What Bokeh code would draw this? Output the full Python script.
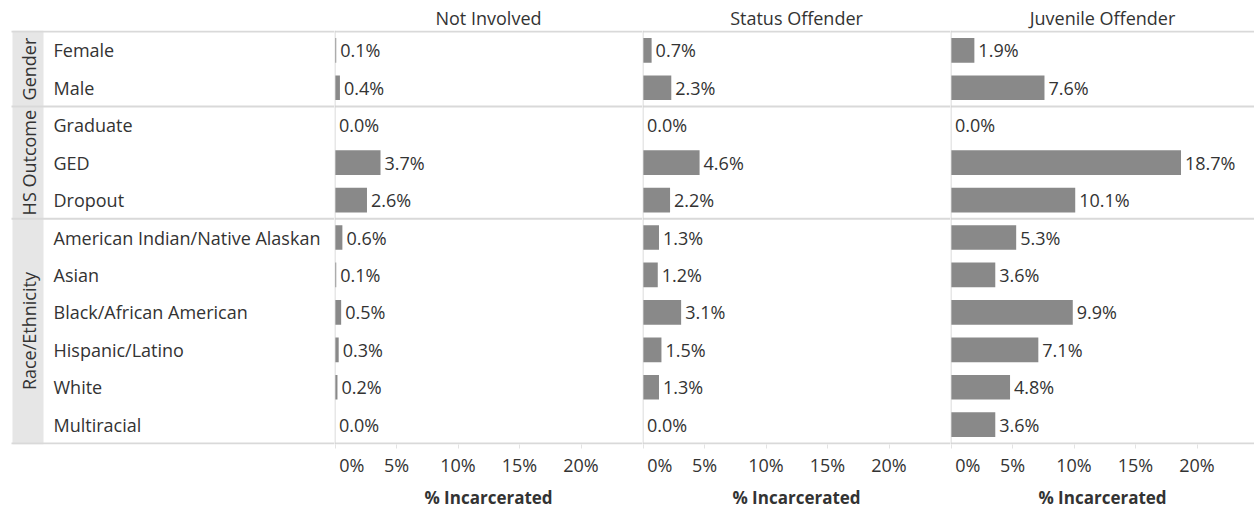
import math
from bokeh.plotting import figure
from bokeh.layouts import row
from bokeh.models import Range1d, FixedTicker, Span, ColumnDataSource, PrintfTickFormatter
from bokeh.core.properties import value
from bokeh.embed import file_html
from bokeh.resources import INLINE

# ---------------- data ----------------
groups = ["Gender", "HS Outcome", "Race/Ethnicity"]
gender = ["Female", "Male"]
hs_outcome = ["Graduate", "GED", "Dropout"]
race = ["American Indian/Native Alaskan", "Asian", "Black/African American",
        "Hispanic/Latino", "White", "Multiracial"]
panels = ["Not Involved", "Status Offender", "Juvenile Offender"]
not_involved = [0.1, 0.4, 0.0, 3.7, 2.6, 0.6, 0.1, 0.5, 0.3, 0.2, 0.0]
status_offender = [0.7, 2.3, 0.0, 4.6, 2.2, 1.3, 1.2, 3.1, 1.5, 1.3, 0.0]
juvenile_offender = [1.9, 7.6, 0.0, 18.7, 10.1, 5.3, 3.6, 9.9, 7.1, 4.8, 3.6]
tick_values = [0, 5, 10, 15, 20]
axis_title = "% Incarcerated"

# ---------------- layout / style ----------------
FONT = "Open Sans"
FS = "18px"
TXT = "#333333"
BAR = "#898989"
LINE = "#d9d9d9"
H = 513
TOP = 30
BOTTOM = 69
LW = 334
PW = [308, 308, 304]
PX_PER_PCT = 12.3
PAD_Y = 0.03

members = [gender, hs_outcome, race]
labels = [m for g in members for m in g]
n = len(labels)
ycent = [i + 0.5 for i in range(n)]
bounds = [0]
for g in members:
    bounds.append(bounds[-1] + len(g))
ymid = [(bounds[k] + bounds[k + 1]) / 2 for k in range(len(groups))]


def yr():
    return Range1d(n + PAD_Y, -PAD_Y)


def base_fig(w, xr, **kw):
    p = figure(width=w, height=H, output_backend="svg", toolbar_location=None,
               x_range=xr, y_range=yr(), min_border_left=0, min_border_right=0,
               min_border_top=TOP, min_border_bottom=BOTTOM,
               outline_line_color=None, y_axis_location=None, **kw)
    p.grid.visible = False
    p.background_fill_color = "white"
    p.border_fill_color = "white"
    return p


# label column figure
lf = base_fig(LW, Range1d(0, LW), x_axis_location=None)
lf.quad(left=[12], right=[43], top=[-PAD_Y], bottom=[n + PAD_Y], fill_color="#e6e6e6", line_color=None)
lf.segment(x0=[11] * len(bounds), x1=[LW] * len(bounds), y0=bounds, y1=bounds,
           line_color=LINE, line_width=2)
lf.text(x=[53] * n, y=ycent, text=labels, text_font=value(FONT), text_font_size=FS,
        text_color=TXT, text_baseline="middle", text_align="left")
lf.text(x=[28] * len(groups), y=ymid, text=groups, angle=math.pi / 2,
        text_font=value(FONT), text_font_size=FS, text_color=TXT,
        text_baseline="middle", text_align="center")

figs = [lf]
series = [not_involved, status_offender, juvenile_offender]
zero_label = "\u00a0" + "0%"
for name, vals, w in zip(panels, series, PW):
    pad_x = 0.5 / PX_PER_PCT
    p = base_fig(w, Range1d(-pad_x, w / PX_PER_PCT - pad_x))
    p.title.text = name
    p.title.align = "center"
    p.title.text_font = FONT
    p.title.text_font_size = FS
    p.title.text_font_style = "normal"
    p.title.text_color = TXT
    p.title.standoff = 2
    src = ColumnDataSource(dict(y=ycent, v=vals, lbl=[f"{v:.1f}%" for v in vals]))
    p.hbar(y="y", left=0, right="v", height=0.66, source=src, fill_color=BAR, line_color=None)
    p.text(x="v", y="y", text="lbl", source=src, x_offset=4, text_font=value(FONT),
           text_font_size=FS, text_color=TXT, text_baseline="middle", text_align="left")
    for b in bounds:
        p.add_layout(Span(location=b, dimension="width", line_color=LINE, line_width=2))
    p.add_layout(Span(location=0, dimension="height", line_color="#d0d0d0", line_width=1))
    ax = p.xaxis[0]
    ax.ticker = FixedTicker(ticks=tick_values)
    ax.formatter = PrintfTickFormatter(format="%d%%")
    ax.major_label_overrides = {0: zero_label}
    ax.axis_line_color = None
    ax.major_tick_in = 0
    ax.major_tick_out = 4
    ax.major_tick_line_color = "#e3e3e3"
    ax.minor_tick_line_color = None
    ax.major_label_standoff = 4
    ax.major_label_text_font = FONT
    ax.major_label_text_font_size = FS
    ax.major_label_text_color = TXT
    ax.major_label_text_line_height = 1.0
    ax.axis_label = axis_title
    ax.axis_label_standoff = 6
    ax.axis_label_text_font = FONT
    ax.axis_label_text_font_size = "17px"
    ax.axis_label_text_font_style = "bold"
    ax.axis_label_text_color = TXT
    ax.axis_label_text_line_height = 1.0
    figs.append(p)

layout = row(*figs, spacing=0)
open("out.html", "w").write(file_html(layout, INLINE))
